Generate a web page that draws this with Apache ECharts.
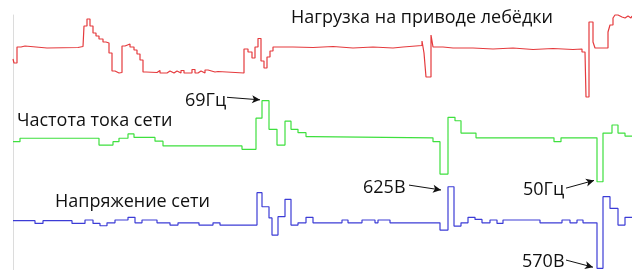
<!DOCTYPE html>
<html>
<head>
<meta charset="utf-8">
<script src="https://cdn.jsdelivr.net/npm/echarts@6/dist/echarts.min.js"></script>
<style>
  html, body { margin: 0; padding: 0; background: #fff; }
</style>
</head>
<body>
<div id="chart" style="width: 632px; height: 270px"></div>
<script>
// нагрузка на приводе лебёдки, усл. ед.: [t, значение с момента t]
var loadSteps = [
  [0, 38], [1, 34], [4, 50], [8, 51], [12, 49], [34, 49.5], [65, 50.5], [70, 52],
  [71, 71], [74, 78], [77, 71], [80, 64], [83, 61], [86, 58], [90, 55], [93, 54],
  [96, 44], [99, 26], [102, 24], [106, 24.5], [109, 51], [112, 53], [117, 50],
  [121, 47], [124, 43], [127, 37], [130, 25], [133, 24.5], [144, 26.5], [147, 24],
  [154, 26], [157, 24], [161, 26], [164, 24], [168, 26.5], [171, 24], [179, 27.5],
  [182, 24], [185, 26], [188, 24], [192, 27], [195, 25], [202, 25.5], [205, 24],
  [231, 48], [235, 45], [239, 39], [242, 50], [245, 58.5], [248, 36], [251, 29],
  [254, 40], [257, 46], [260, 50], [280, 49.5], [300, 50.5], [320, 49], [340, 50],
  [360, 49], [380, 50], [390, 51.5], [409, 56], [411, 44], [413, 20],
  [418, 62], [420, 50], [430, 49], [440, 49], [460, 48], [480, 49], [500, 47.5],
  [520, 48.5], [540, 47.5], [560, 48], [569, 45], [572, 44], [573, 0], [576, 75],
  [580, 55], [582, 49], [595, 65], [597, 72], [600, 79], [602, 82], [605, 80],
  [609, 79], [612, 81], [615, 79], [618, 81], [619, 81]
];

// частота тока сети, Гц
var freqSteps = [
  [0, 59.4], [7, 60.2], [86, 58.6], [100, 59.4], [106, 60.2], [115, 61.2],
  [121, 60.4], [142, 59.5], [150, 58.4], [229, 57.6], [243, 64.9], [249, 69],
  [256, 62.3], [264, 58.6], [272, 64.2], [278, 62.3], [285, 61.5], [293, 60.6],
  [299, 60.3], [420, 59.4], [427, 51.8], [435, 65.1], [442, 64.3], [448, 61.4],
  [463, 60.3], [541, 59.4], [548, 60.3], [584, 50], [590, 61.4], [599, 63.3],
  [605, 61.4], [612, 60.7], [619, 60.7]
];

// напряжение сети, В
var voltSteps = [
  [0, 602.1], [22, 600.3], [30, 602.1], [59, 600.3], [72, 602.6], [80, 600.3],
  [87, 598.7], [94, 600.7], [102, 602.6], [115, 604.4], [122, 600.7], [129, 602.6],
  [144, 600.7], [157, 599.2], [165, 600.7], [186, 599.2], [200, 600.7], [207, 599.2],
  [244, 621], [249, 611.5], [256, 604], [259, 592.4], [265, 604.8], [272, 616.5],
  [278, 599.2], [285, 600.7], [293, 604.4], [300, 600.7], [329, 602.6], [335, 600.7],
  [349, 602.6], [362, 600.7], [365, 602.6], [377, 600.7], [427, 595.8], [435, 625],
  [441, 598.5], [448, 600.7], [455, 604.4], [462, 603], [469, 600.7], [477, 602.6],
  [484, 600.3], [490, 602.6], [527, 600.7], [549, 602.6], [557, 600.7], [564, 602.6],
  [570, 600.7], [584, 570], [590, 618.3], [597, 610.4], [605, 599.2], [612, 604.4],
  [619, 604.4]
];

// подписи и стрелки: [t, значение] начала и конца стрелки
var seriesNames = ["Нагрузка на приводе лебёдки", "Частота тока сети", "Напряжение сети"];
var freqArrows = [
  { text: "69Гц", from: [214, 69.8], to: [247, 69.2] },
  { text: "50Гц", from: [553, 48.5], to: [581, 50.3] }
];
var voltArrows = [
  { text: "625В", from: [396, 626.1], to: [428, 622.8] },
  { text: "570В", from: [553, 575.6], to: [580, 570.8] }
];

var chart = echarts.init(document.getElementById("chart"));

function arrowLines(list) {
  return list.map(function (a) {
    return [{ coord: a.from }, { coord: a.to }];
  });
}

function stepSeries(data, axis, color, arrows) {
  var s = {
    type: "line",
    yAxisIndex: axis,
    step: "end",
    showSymbol: false,
    clip: false,
    data: data,
    lineStyle: { color: color, width: 1.2 },
    itemStyle: { color: color }
  };
  if (arrows) {
    s.markLine = {
      silent: true,
      symbol: ["none", "arrow"],
      symbolSize: [6, 8],
      label: { show: false },
      lineStyle: { color: "#111", width: 1, type: "solid" },
      data: arrowLines(arrows)
    };
  }
  return s;
}

function hiddenAxis(min, max) {
  return {
    type: "value", min: min, max: max,
    axisLine: { show: false }, axisTick: { show: false },
    axisLabel: { show: false }, splitLine: { show: false }
  };
}

var font = '18px "Open Sans", sans-serif';
function txt(text, x, y) {
  return {
    type: "text", left: x, top: y,
    style: { text: text, font: font, fill: "#111" }
  };
}

var option = {
  backgroundColor: "#fff",
  animation: false,
  grid: { left: 13, right: 0, top: 15, bottom: 0 },
  xAxis: {
    type: "value", min: 0, max: 619,
    axisLine: { show: false }, axisTick: { show: false },
    axisLabel: { show: false }, splitLine: { show: false }
  },
  yAxis: [
    {
      type: "value", min: -173, max: 82,
      axisLine: { show: true, lineStyle: { color: "#dcdcdc", width: 1 } },
      axisTick: { show: false }, axisLabel: { show: false }, splitLine: { show: false }
    },
    hiddenAxis(29.3, 89.1),
    hiddenAxis(568.9, 740.7)
  ],
  series: [
    stepSeries(loadSteps, 0, "#e53a3d"),
    stepSeries(freqSteps, 1, "#3ee03e", freqArrows),
    stepSeries(voltSteps, 2, "#3c3cd6", voltArrows)
  ],
  graphic: [
    txt(seriesNames[0], 291, 9),
    txt(seriesNames[1], 17, 112),
    txt(seriesNames[2], 55, 193),
    txt(freqArrows[0].text, 185, 92),
    txt(freqArrows[1].text, 523, 181),
    txt(voltArrows[0].text, 363, 179),
    txt(voltArrows[1].text, 522, 253)
  ]
};

chart.setOption(option);
</script>
</body>
</html>
